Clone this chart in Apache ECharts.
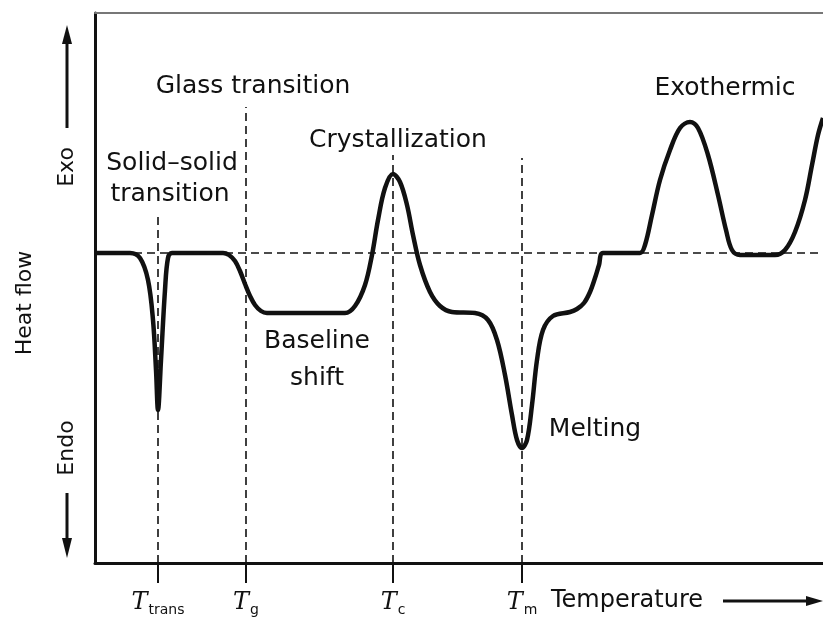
<!DOCTYPE html>
<html>
<head>
<meta charset="utf-8">
<script src="https://cdn.jsdelivr.net/npm/echarts@6/dist/echarts.min.js"></script>
<style>
  html, body { margin: 0; padding: 0; background: #fff; }
  #chart { width: 823px; height: 628px; }
</style>
</head>
<body>
<div id="chart"></div>
<script>
// DSC curve (x = temperature, y = heat flow, arbitrary units)
const curveX = [0, 35, 45, 53, 58, 61, 63, 66, 70, 73, 77, 128, 134, 140, 145, 150, 155, 160, 166, 172, 250, 260, 270, 277, 283, 290, 298, 305, 312, 318, 325, 335, 345, 357, 380, 393, 402, 410, 417, 422, 427, 432, 437, 442, 448, 458, 475, 482, 489, 495, 500, 504, 508, 545, 550, 557, 565, 575, 585, 595, 603, 613, 623, 631, 637, 645, 680, 690, 700, 710, 717, 723, 728]
const curveY = [310, 310, 305, 283, 243, 193, 153, 203, 273, 305, 310, 310, 308, 302, 292, 279, 267, 258, 252, 250, 250, 257, 278, 308, 343, 375, 389, 381, 358, 328, 298, 271, 257, 251, 250, 243, 223, 188, 148, 123, 115, 123, 158, 203, 233, 247, 251, 254, 260, 271, 285, 298, 310, 310, 318, 348, 383, 413, 435, 441, 435, 408, 368, 333, 313, 308, 308, 313, 331, 363, 398, 428, 445]
const baseline = 310
// characteristic temperatures and the height their guide lines reach
const markNames = ['trans', 'g', 'c', 'm']
const markX = [63, 151, 298, 427]
const markTop = [348, 456, 408, 405]

const chart = echarts.init(document.getElementById('chart'))
const font = 'DejaVu Sans'
const black = '#111'

const points = curveX.map((x, i) => [x, curveY[i]])
const guides = markX.map((x, i) => [{ coord: [x, 0] }, { coord: [x, markTop[i]] }])
guides.push([{ coord: [0, baseline] }, { coord: [728, baseline] }])

function txt(x, y, s, size, extra) {
  return Object.assign({
    type: 'text', x: x, y: y,
    style: { text: s, font: size + 'px "' + font + '"', fill: black, align: 'center', verticalAlign: 'middle' }
  }, extra || {})
}

chart.setOption({
  animation: false,
  grid: { left: 95, right: 0, top: 13, bottom: 65 },
  xAxis: [{
    type: 'value', min: 0, max: 728,
    splitLine: { show: false },
    axisLine: { lineStyle: { color: black, width: 3 } },
    axisTick: { customValues: markX, length: 20, lineStyle: { color: black, width: 2 } },
    axisLabel: {
      customValues: markX,
      margin: 26,
      formatter: v => '{t|T}{s|' + markNames[markX.indexOf(v)] + '}',
      rich: {
        t: { fontFamily: 'DejaVu Serif', fontStyle: 'italic', fontSize: 24, color: black },
        s: { fontFamily: font, fontSize: 14, color: black, padding: [14, 0, 0, 1] }
      }
    }
  }, {
    type: 'value', min: 0, max: 728, position: 'top',
    splitLine: { show: false }, axisTick: { show: false }, axisLabel: { show: false },
    axisLine: { lineStyle: { color: '#777', width: 2 } }
  }],
  yAxis: {
    type: 'value', min: 0, max: 550,
    splitLine: { show: false },
    axisTick: { show: false },
    axisLabel: { show: false },
    axisLine: { show: true, lineStyle: { color: black, width: 3 } }
  },
  series: [{
    type: 'line',
    data: points,
    smooth: 0.35,
    symbol: 'none',
    lineStyle: { color: black, width: 4.5 },
    markLine: {
      silent: true,
      symbol: 'none',
      label: { show: false },
      lineStyle: { color: black, width: 1.6, type: [8, 5] },
      data: guides
    }
  }],
  graphic: [
    txt(253, 86, 'Glass transition', 25),
    txt(172, 163, 'Solid\u2013solid', 25),
    txt(170, 194, 'transition', 25),
    txt(398, 140, 'Crystallization', 25),
    txt(317, 341, 'Baseline', 25),
    txt(317, 378, 'shift', 25),
    txt(595, 429, 'Melting', 25),
    txt(725, 88, 'Exothermic', 25),
    txt(627, 601, 'Temperature', 24),
    txt(25, 303, 'Heat flow', 22, { rotation: Math.PI / 2 }),
    txt(67, 167, 'Exo', 22, { rotation: Math.PI / 2 }),
    txt(67, 448, 'Endo', 22, { rotation: Math.PI / 2 }),
    { type: 'line', shape: { x1: 67, y1: 128, x2: 67, y2: 40 }, style: { stroke: black, lineWidth: 3 } },
    { type: 'polygon', shape: { points: [[67, 25], [62, 44], [72, 44]] }, style: { fill: black } },
    { type: 'line', shape: { x1: 67, y1: 493, x2: 67, y2: 542 }, style: { stroke: black, lineWidth: 3 } },
    { type: 'polygon', shape: { points: [[67, 558], [62, 538], [72, 538]] }, style: { fill: black } },
    { type: 'line', shape: { x1: 723, y1: 601, x2: 808, y2: 601 }, style: { stroke: black, lineWidth: 3 } },
    { type: 'polygon', shape: { points: [[823, 601], [806, 596], [806, 606]] }, style: { fill: black } }
  ]
})
</script>
</body>
</html>
